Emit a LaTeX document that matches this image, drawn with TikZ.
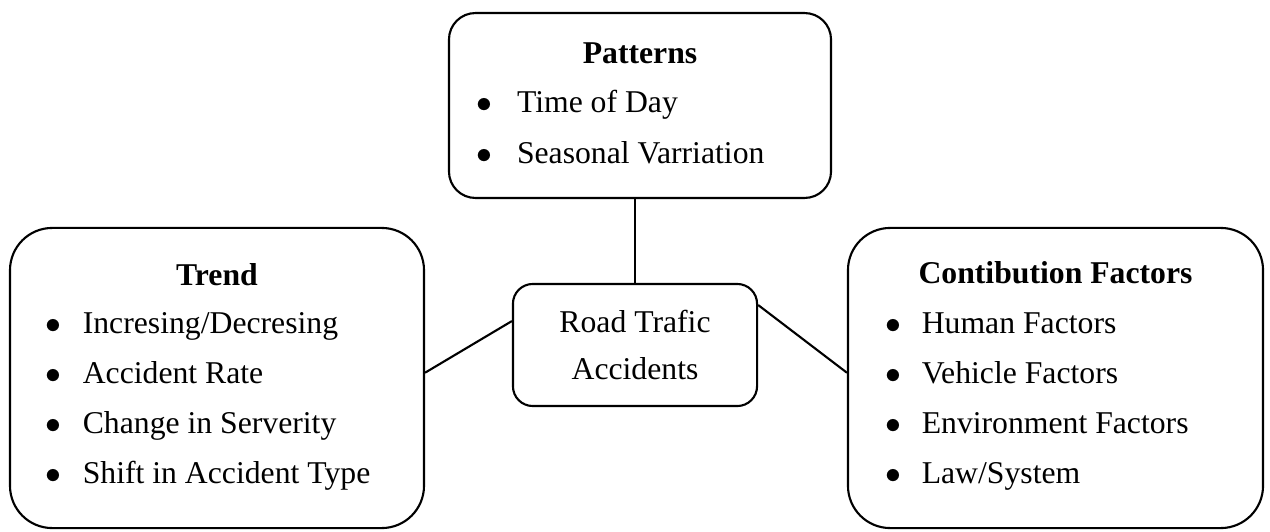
\documentclass[tikz,border=0pt]{standalone}
\usepackage{fontspec}
\setmainfont{Liberation Serif}

\tikzset{
  panel/.style={draw, rounded corners=#1, inner sep=0pt},
  bulitem/.style={anchor=base west, inner sep=0pt,
    execute at begin node={$\bullet$\hspace{#1}}},
  bulitem/.default=8.3pt,
  headline/.style={anchor=base, inner sep=0pt, font=\fontsize{12}{14}\selectfont\bfseries}
}

\begin{document}
\begin{tikzpicture}[x=0.3785pt, y=-0.3785pt, line width=0.8pt,
    every node/.style={font=\fontsize{12}{14}\selectfont}]
    \useasboundingbox (0,0) rectangle (1270,531);

    \node[panel=10pt, minimum width=144.6pt, minimum height=70pt] (patterns) at (640,105.5) {};
    \node[panel=16pt, minimum width=156.7pt, minimum height=113.6pt] (trend) at (217,378) {};
    \node[panel=16pt, minimum width=157.1pt, minimum height=113.6pt] (factors) at (1055.5,378) {};
    \node[panel=7.5pt, minimum width=92.4pt, minimum height=46.2pt, align=center,
          font=\fontsize{12}{17.8}\selectfont] (rta) at (635,345) {Road Trafic\\Accidents};

    \draw (rta.north |- patterns.south) -- (rta.north);
    \draw (rta.169) -- ([yshift=2pt]trend.east);
    \draw (rta.18) -- ([yshift=2pt]factors.west);

%labels
    \node[headline] (pattitle) at (640,63) {Patterns};
    \node[bulitem=9.5pt] (pat1) at (475,112) {Time of Day};
    \node[bulitem=9.5pt] (pat2) at (475,163) {Seasonal Varriation};

    \node[headline] (trendtitle) at (217,285) {Trend};
    \node[bulitem] (trend1) at (44,333) {Incresing/Decresing};
    \node[bulitem] (trend2) at (44,383) {Accident Rate};
    \node[bulitem] (trend3) at (44,433) {Change in Serverity};
    \node[bulitem] (trend4) at (44,483) {Shift in Accident Type};

    \node[headline] (factitle) at (1055.5,283) {Contibution Factors};
    \node[bulitem=7.9pt] (fac1) at (884,333) {Human Factors};
    \node[bulitem=7.9pt] (fac2) at (884,383) {Vehicle Factors};
    \node[bulitem=7.9pt] (fac3) at (884,433) {Environment Factors};
    \node[bulitem=7.9pt] (fac4) at (884,483) {Law/System};

\end{tikzpicture}
\end{document}
